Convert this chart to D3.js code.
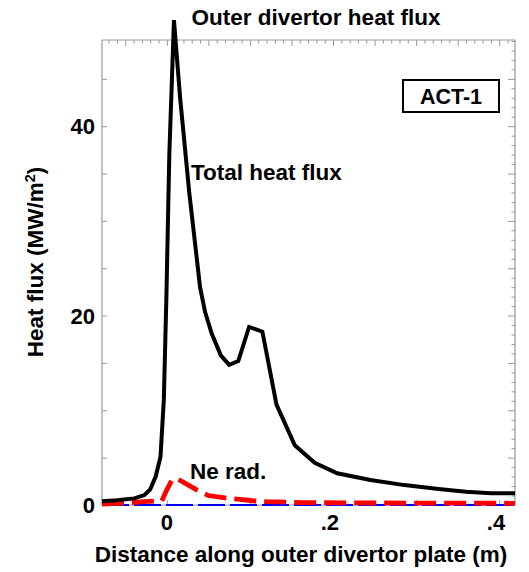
<!DOCTYPE html>
<html>
<head>
<meta charset="utf-8">
<script src="https://cdn.jsdelivr.net/npm/d3@7"></script>
<style>
  html, body { margin: 0; padding: 0; background: #fff; }
  svg text { font-family: "Liberation Sans", Arial, Helvetica, sans-serif; font-weight: bold; fill: #000; }
</style>
</head>
<body>
<div id="chart"></div>
<script>
var totalX = [-0.078, -0.06, -0.039, -0.027, -0.020, -0.0134, -0.0076, -0.0036, -0.0005, 0.003, 0.0086,
  0.016, 0.027, 0.040, 0.046, 0.054, 0.065, 0.075, 0.086, 0.099, 0.115, 0.132, 0.154, 0.178,
  0.205, 0.245, 0.286, 0.327, 0.36, 0.39, 0.419];
var totalY = [0.4, 0.5, 0.7, 1.05, 1.65, 3.0, 5.1, 11.1, 22, 37, 51.2,
  43, 33, 23, 20.4, 18.1, 15.8, 14.8, 15.2, 18.8, 18.3, 10.6, 6.3, 4.45,
  3.35, 2.64, 2.1, 1.7, 1.4, 1.25, 1.25];

var neX = [-0.078, -0.05, -0.028, -0.006, 0.0, 0.006, 0.012, 0.026, 0.036, 0.05, 0.07,
  0.088, 0.103, 0.12, 0.164, 0.216, 0.3, 0.419];
var neY = [0.1, 0.2, 0.35, 0.45, 1.6, 2.6, 2.8, 2.1, 1.6, 1.0, 0.75,
  0.6, 0.45, 0.35, 0.25, 0.22, 0.2, 0.18];

var baseX = [-0.078, 0.419];
var baseY = [0, 0];

var xTickValues = [0, 0.2, 0.4];
var xTickLabels = ['0', '.2', '.4'];
var yTickValues = [0, 20, 40];
var yTickLabels = ['0', '20', '40'];

(function() {
  var width = 529;
  var height = 572;
  var plot = { left: 102, right: 515, top: 40, bottom: 505 };
  var grey = '#999';

  var x = d3.scaleLinear().domain([-0.078, 0.419]).range([plot.left, plot.right]);
  var y = d3.scaleLinear().domain([0, 49.1]).range([plot.bottom, plot.top]);

  var svg = d3.select('#chart').append('svg')
    .attr('width', width)
    .attr('height', height);

  // frame lines
  var frame = svg.append('g').attr('stroke', grey).attr('stroke-width', 1.2).attr('fill', 'none');
  frame.append('line').attr('x1', plot.left).attr('x2', plot.right).attr('y1', plot.top).attr('y2', plot.top);
  frame.append('line').attr('x1', plot.left).attr('x2', plot.right).attr('y1', plot.bottom).attr('y2', plot.bottom);
  frame.append('line').attr('x1', plot.left).attr('x2', plot.left).attr('y1', plot.top).attr('y2', plot.bottom);
  frame.append('line').attr('x1', plot.right).attr('x2', plot.right).attr('y1', plot.top).attr('y2', plot.bottom);

  // inward ticks, drawn with d3 axes
  svg.append('g')
    .attr('transform', 'translate(' + plot.left + ',0)')
    .call(d3.axisRight(y).tickValues(d3.range(0, 49, 5)).tickSize(5).tickFormat(''))
    .call(function(g) { g.select('.domain').remove(); g.selectAll('line').attr('stroke', grey); });

  svg.append('g')
    .attr('transform', 'translate(' + plot.right + ',0)')
    .call(d3.axisLeft(y).tickValues(d3.range(0, 50, 1)).tickSize(3.5).tickFormat(''))
    .call(function(g) {
      g.select('.domain').remove();
      g.selectAll('line').attr('stroke', grey).attr('x2', function(d) { return d % 5 === 0 ? -7 : -3.5; });
    });

  var topTicks = d3.range(-7, 42).map(function(i) { return i / 100; });
  svg.append('g')
    .attr('transform', 'translate(0,' + plot.top + ')')
    .call(d3.axisBottom(x).tickValues(topTicks).tickSize(3.5).tickFormat(''))
    .call(function(g) {
      g.select('.domain').remove();
      g.selectAll('line').attr('stroke', grey).attr('y2', function(d) {
        return Math.abs(Math.round(d * 100) % 5) === 0 ? 6 : 3.5;
      });
    });

  svg.append('g')
    .attr('transform', 'translate(0,' + plot.bottom + ')')
    .call(d3.axisTop(x).tickValues([0, 0.1, 0.2, 0.3, 0.4]).tickSize(5).tickFormat(''))
    .call(function(g) { g.select('.domain').remove(); g.selectAll('line').attr('stroke', grey); });

  // tick labels
  svg.selectAll('.ylab').data(yTickValues).enter().append('text')
    .attr('x', plot.left - 7)
    .attr('y', function(d) { return y(d) + 8; })
    .attr('text-anchor', 'end')
    .attr('font-size', 22)
    .text(function(d, i) { return yTickLabels[i]; });

  svg.selectAll('.xlab').data(xTickValues).enter().append('text')
    .attr('x', function(d) { return d === 0 ? x(d) : x(d) + 6; })
    .attr('y', 530)
    .attr('text-anchor', function(d) { return d === 0 ? 'middle' : 'end'; })
    .attr('font-size', 22)
    .text(function(d, i) { return xTickLabels[i]; });

  var line = d3.line()
    .x(function(d) { return x(d[0]); })
    .y(function(d) { return y(d[1]); });

  // baseline (blue dashed)
  svg.append('path')
    .datum(d3.zip(baseX, baseY))
    .attr('d', line)
    .attr('fill', 'none')
    .attr('stroke', '#0000ff')
    .attr('stroke-width', 2)
    .attr('stroke-dasharray', '27,5');

  // Ne radiation (red dashed)
  svg.append('path')
    .datum(d3.zip(neX, neY))
    .attr('d', line)
    .attr('fill', 'none')
    .attr('stroke', '#ff0000')
    .attr('stroke-width', 4.8)
    .attr('stroke-dasharray', '22,8');

  // total heat flux
  svg.append('path')
    .datum(d3.zip(totalX, totalY))
    .attr('d', line)
    .attr('fill', 'none')
    .attr('stroke', '#000')
    .attr('stroke-width', 4)
    .attr('stroke-linejoin', 'miter')
    .attr('stroke-miterlimit', 10);

  // annotations
  svg.append('text').attr('x', 191).attr('y', 180).attr('font-size', 22.5).text('Total heat flux');
  svg.append('text').attr('x', 190).attr('y', 479).attr('font-size', 22.5).text('Ne rad.');

  svg.append('rect')
    .attr('x', 403).attr('y', 80).attr('width', 96).attr('height', 32)
    .attr('fill', '#fff').attr('stroke', '#000').attr('stroke-width', 2);
  svg.append('text').attr('x', 451).attr('y', 104).attr('text-anchor', 'middle')
    .attr('font-size', 21.5).text('ACT-1');

  // titles
  svg.append('text').attr('x', 316).attr('y', 25).attr('text-anchor', 'middle')
    .attr('font-size', 22.5).text('Outer divertor heat flux');

  svg.append('text').attr('x', 301).attr('y', 562).attr('text-anchor', 'middle')
    .attr('font-size', 22.5).text('Distance along outer divertor plate (m)');

  var ylab = svg.append('text')
    .attr('transform', 'translate(43,262) rotate(-90)')
    .attr('text-anchor', 'middle')
    .attr('font-size', 22.5);
  ylab.append('tspan').text('Heat flux (MW/m');
  ylab.append('tspan').attr('font-size', 14.5).attr('dy', -8).text('2');
  ylab.append('tspan').attr('dy', 8).text(')');
})();
</script>
</body>
</html>
